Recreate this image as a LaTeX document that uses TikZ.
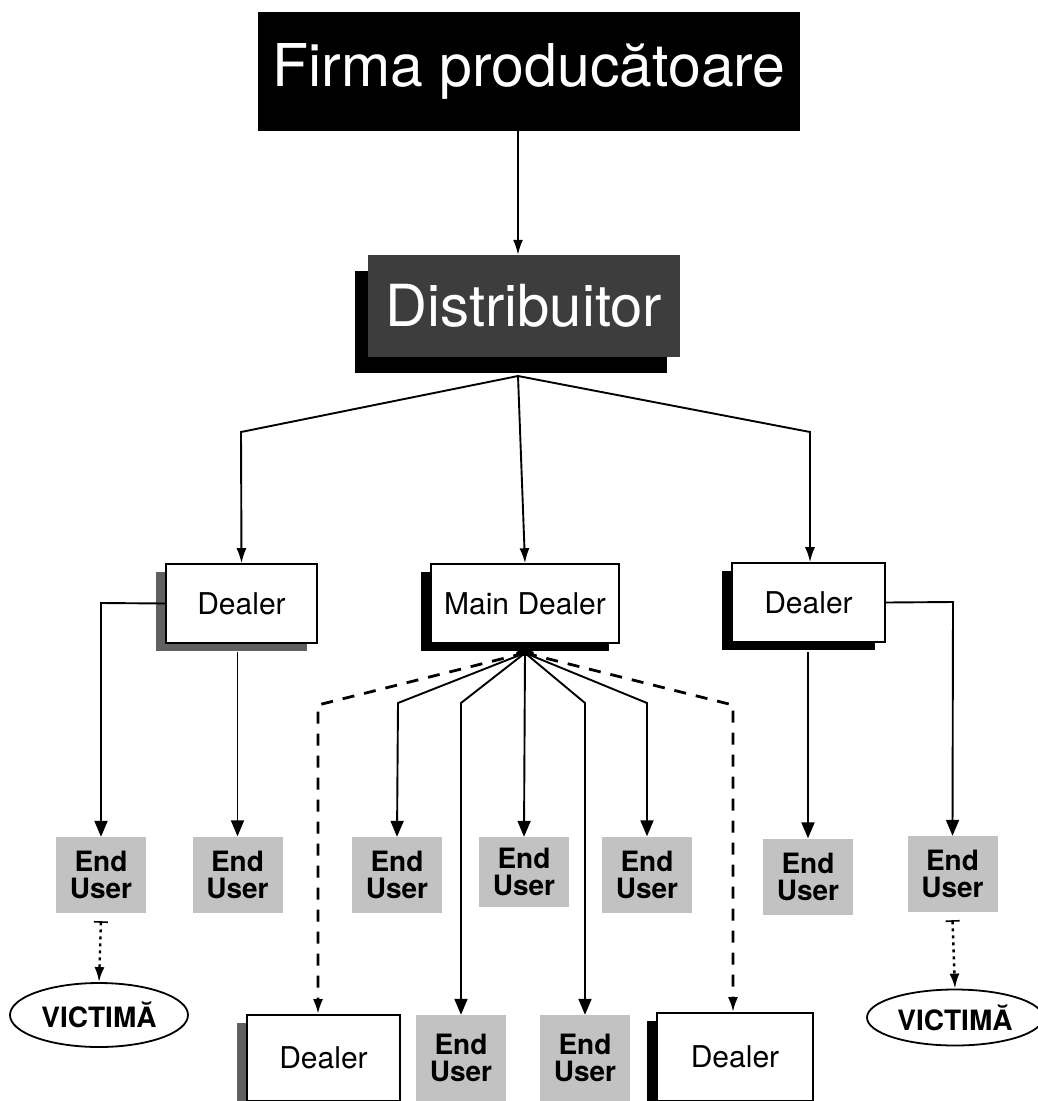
\documentclass[tikz,border=0pt]{standalone}
\usepackage{fontspec}
\setmainfont{TeX Gyre Heros}
\usetikzlibrary{arrows.meta,shadows,shapes.geometric}
\begin{document}
\begin{tikzpicture}[x=1pt,y=-1pt,
  conn/.style={line width=1.9pt},
  tri/.style={-{Triangle[width=13pt,length=16pt]}},
  fuzz/.style={-{Latex[length=15pt,width=10pt]}},
  dashline/.style={line width=2.8pt,dash pattern=on 12pt off 10pt},
  dotline/.style={line width=2.4pt,dash pattern=on 3pt off 4pt},
  titlebox/.style={fill=black,text=white,inner sep=0pt,minimum width=542pt,minimum height=119pt,font=\fontsize{59}{59}\selectfont},
  distbox/.style={fill=black!76,text=white,inner sep=0pt,minimum width=312pt,minimum height=102pt,font=\fontsize{58}{58}\selectfont,
     general shadow={fill=black,shadow xshift=-13pt,shadow yshift=-16pt}},
  dealerbox/.style={draw,line width=1.6pt,fill=white,inner sep=0pt,minimum height=79pt,font=\fontsize{30}{30}\selectfont},
  shblack/.style={general shadow={fill=black,shadow xshift=-10pt,shadow yshift=-8pt}},
  shgray/.style={general shadow={fill=black!62,shadow xshift=-10pt,shadow yshift=-8pt}},
  eubox/.style={fill=black!24,inner sep=0pt,minimum width=90pt,minimum height=76pt,align=center,font=\bfseries\fontsize{28}{27}\selectfont},
  victbox/.style={ellipse,draw,line width=1.8pt,fill=white,inner sep=0pt,font=\bfseries\fontsize{28}{28}\selectfont}
]
\useasboundingbox (0,0) rectangle (1038,1101);
\clip (0,0) rectangle (1038,1101);
\fill[white] (0,0) rectangle (1038,1101);

% nodes
\node[titlebox] (firma) at (529,71.5) {Firma producătoare};
\node[distbox] (distrib) at (524,306) {Distribuitor};

\node[dealerbox,shgray,minimum width=151pt] (dL) at (241.5,603.5) {Dealer};
\node[dealerbox,shblack,minimum width=188pt] (dM) at (525,603.5) {Main Dealer};
\node[dealerbox,shblack,minimum width=153pt] (dR) at (808.5,602.5) {Dealer};

\node[eubox] (eu1) at (101,875) {End\\User};
\node[eubox] (eu2) at (237.5,874.5) {End\\User};
\node[eubox] (eu3) at (397,875) {End\\User};
\node[eubox,minimum height=70pt] (eu4) at (524,872) {End\\User};
\node[eubox] (eu5) at (647,874.5) {End\\User};
\node[eubox] (eu6) at (808,876.5) {End\\User};
\node[eubox] (eu7) at (952.5,874) {End\\User};
\node[eubox,minimum height=86pt] (eu8) at (461,1058) {End\\User};
\node[eubox,minimum height=86pt] (eu9) at (585,1058) {End\\User};

\node[dealerbox,shgray,minimum width=153pt,minimum height=86pt] (dBL) at (323.5,1058) {Dealer};
\node[dealerbox,shblack,minimum width=156pt,minimum height=88pt] (dBR) at (735,1057) {Dealer};

\node[victbox,minimum width=178pt,minimum height=64pt] (vL) at (99,1015) {VICTIMĂ};
\node[victbox,minimum width=176pt,minimum height=56pt] (vR) at (955,1017.5) {VICTIMĂ};

% helper coordinates
\coordinate (dsrc) at (518,376);
\coordinate (cL) at (241,432);
\coordinate (cR) at (810,432);
\coordinate (msrc) at (525,653);
\coordinate (kBL) at (318,705);
\coordinate (k3) at (398,703);
\coordinate (k8) at (461,703);
\coordinate (k9) at (585,703);
\coordinate (k5) at (647,703);
\coordinate (kBR) at (733,705);
\coordinate (lL) at (101,603);
\coordinate (lR) at (953,602);

% top connectors
\draw[conn,fuzz] (dsrc |- firma.south) -- (dsrc |- distrib.north);
\draw[conn,fuzz] (dsrc) -- (cL) -- (dL.north);
\draw[conn,fuzz] (dsrc) -- (dM.north);
\draw[conn,fuzz] (dsrc) -- (cR) -- (cR |- dR.north);

% side dealers
\draw[conn,tri] (dL.west) -- (lL) -- (eu1.north);
\draw[conn,tri] (eu2.north |- 0,652) -- (eu2.north);
\draw[conn,tri] (dR.east) -- (lR) -- (eu7.north);
\draw[conn,tri] (eu6.north |- 0,652) -- (eu6.north);

% main dealer fan
\draw[dashline,fuzz] (msrc) -- (kBL) -- (kBL |- dBL.north);
\draw[dashline,fuzz] (msrc) -- (kBR) -- (kBR |- dBR.north);
\draw[conn,tri] (msrc) -- (k3) -- (eu3.north);
\draw[conn,tri] (msrc) -- (k8) -- (eu8.north);
\draw[conn,tri] (msrc) -- (eu4.north);
\draw[conn,tri] (msrc) -- (k9) -- (eu9.north);
\draw[conn,tri] (msrc) -- (k5) -- (eu5.north);
\fill (msrc) ellipse (9pt and 3pt);

% victims
\draw[dotline,{Bar[width=14pt,line width=1.6pt]}-{Latex[length=15pt,width=10pt]}] ([yshift=-8pt]eu1.south) -- (vL.north);
\draw[dotline,{Bar[width=14pt,line width=1.6pt]}-{Latex[length=15pt,width=10pt]}] ([yshift=-8pt]eu7.south) -- (vR.north);
\end{tikzpicture}
\end{document}
